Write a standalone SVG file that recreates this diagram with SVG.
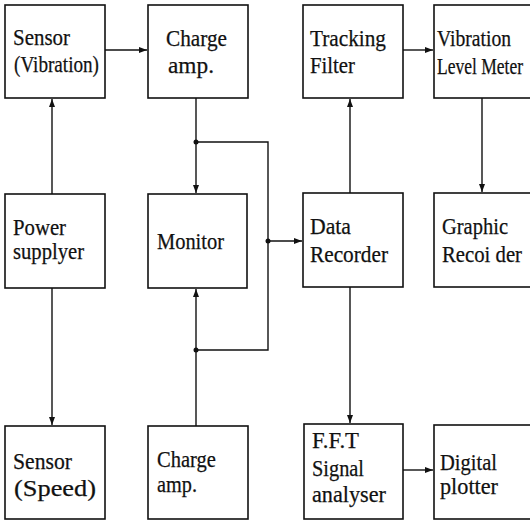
<svg xmlns="http://www.w3.org/2000/svg" width="530" height="521" viewBox="0 0 530 521">
  <style>
    .box { fill: #fff; stroke: #111; stroke-width: 1.6; }
    .lbl { font-family: "Liberation Serif", "Times New Roman", serif; font-size: 24px; fill: #111; stroke: #111; stroke-width: 0.25; }
    .wire { fill: none; stroke: #111; stroke-width: 1.4; }
    .dot { fill: #111; }
  </style>
  <defs>
    <marker id="arrow" markerUnits="userSpaceOnUse" markerWidth="9" markerHeight="7" refX="8" refY="3" orient="auto">
      <path d="M0,0 L8,3 L0,6 Z" fill="#111"/>
    </marker>
  </defs>
  <rect width="530" height="521" fill="#fff"/>

  <!-- Connectors -->
  <g id="connectors">
    <path class="wire" d="M105,50 H147" marker-end="url(#arrow)"/>
    <path class="wire" d="M403,50 H433" marker-end="url(#arrow)"/>
    <path class="wire" d="M52,194 V99" marker-end="url(#arrow)"/>
    <path class="wire" d="M52,288 V425" marker-end="url(#arrow)"/>
    <path class="wire" d="M196,98 V193" marker-end="url(#arrow)"/>
    <path class="wire" d="M196,426 V289" marker-end="url(#arrow)"/>
    <path class="wire" d="M196,142 H268 V350 H196"/>
    <path class="wire" d="M268,241 H302" marker-end="url(#arrow)"/>
    <path class="wire" d="M350,193 V99" marker-end="url(#arrow)"/>
    <path class="wire" d="M482,98 V192" marker-end="url(#arrow)"/>
    <path class="wire" d="M350,287 V423" marker-end="url(#arrow)"/>
    <path class="wire" d="M403,470 H433" marker-end="url(#arrow)"/>
    <circle class="dot" cx="196" cy="142" r="2.5"/>
    <circle class="dot" cx="196" cy="350" r="2.5"/>
    <circle class="dot" cx="268" cy="241" r="2.5"/>
  </g>

  <!-- Top row -->
  <g id="sensor-vibration">
    <rect class="box" x="5" y="5" width="100" height="93"/>
    <text class="lbl" x="13" y="45" textLength="57" lengthAdjust="spacingAndGlyphs">Sensor</text>
    <text class="lbl" x="14" y="72" textLength="85" lengthAdjust="spacingAndGlyphs">(Vibration)</text>
  </g>
  <g id="charge-amp-top">
    <rect class="box" x="148" y="5" width="100" height="93"/>
    <text class="lbl" x="166" y="46" textLength="61" lengthAdjust="spacingAndGlyphs">Charge</text>
    <text class="lbl" x="168" y="73" textLength="46" lengthAdjust="spacingAndGlyphs">amp.</text>
  </g>
  <g id="tracking-filter">
    <rect class="box" x="303" y="5" width="100" height="93"/>
    <text class="lbl" x="310" y="46" textLength="76" lengthAdjust="spacingAndGlyphs">Tracking</text>
    <text class="lbl" x="310" y="73" textLength="45" lengthAdjust="spacingAndGlyphs">Filter</text>
  </g>
  <g id="vibration-level-meter">
    <rect class="box" x="434" y="5" width="110" height="93"/>
    <text class="lbl" x="437" y="46" textLength="74" lengthAdjust="spacingAndGlyphs">Vibration</text>
    <text class="lbl" x="437" y="74" textLength="86" lengthAdjust="spacingAndGlyphs">Level Meter</text>
  </g>

  <!-- Middle row -->
  <g id="power-supplyer">
    <rect class="box" x="5" y="194" width="100" height="94"/>
    <text class="lbl" x="13" y="235" textLength="53" lengthAdjust="spacingAndGlyphs">Power</text>
    <text class="lbl" x="13" y="259" textLength="71" lengthAdjust="spacingAndGlyphs">supplyer</text>
  </g>
  <g id="monitor">
    <rect class="box" x="148" y="194" width="99" height="94"/>
    <text class="lbl" x="157" y="249" textLength="67" lengthAdjust="spacingAndGlyphs">Monitor</text>
  </g>
  <g id="data-recorder">
    <rect class="box" x="303" y="193" width="100" height="94"/>
    <text class="lbl" x="310" y="234" textLength="41" lengthAdjust="spacingAndGlyphs">Data</text>
    <text class="lbl" x="310" y="262" textLength="78" lengthAdjust="spacingAndGlyphs">Recorder</text>
  </g>
  <g id="graphic-recorder">
    <rect class="box" x="434" y="193" width="110" height="94"/>
    <text class="lbl" x="442" y="234" textLength="66" lengthAdjust="spacingAndGlyphs">Graphic</text>
    <text class="lbl" x="442" y="262" textLength="80" lengthAdjust="spacingAndGlyphs">Recoi der</text>
  </g>

  <!-- Bottom row -->
  <g id="sensor-speed">
    <rect class="box" x="5" y="426" width="100" height="93"/>
    <text class="lbl" x="13" y="469" textLength="59" lengthAdjust="spacingAndGlyphs">Sensor</text>
    <text class="lbl" x="14" y="496" textLength="82" lengthAdjust="spacingAndGlyphs">(Speed)</text>
  </g>
  <g id="charge-amp-bottom">
    <rect class="box" x="148" y="426" width="100" height="93"/>
    <text class="lbl" x="157" y="467" textLength="59" lengthAdjust="spacingAndGlyphs">Charge</text>
    <text class="lbl" x="157" y="492" textLength="40" lengthAdjust="spacingAndGlyphs">amp.</text>
  </g>
  <g id="fft-signal-analyser">
    <rect class="box" x="304" y="424" width="99" height="95"/>
    <text class="lbl" x="312" y="448" textLength="47" lengthAdjust="spacingAndGlyphs">F.F.T</text>
    <text class="lbl" x="312" y="476" textLength="52" lengthAdjust="spacingAndGlyphs">Signal</text>
    <text class="lbl" x="312" y="502" textLength="74" lengthAdjust="spacingAndGlyphs">analyser</text>
  </g>
  <g id="digital-plotter">
    <rect class="box" x="434" y="425" width="110" height="94"/>
    <text class="lbl" x="440" y="470" textLength="57" lengthAdjust="spacingAndGlyphs">Digital</text>
    <text class="lbl" x="440" y="494" textLength="58" lengthAdjust="spacingAndGlyphs">plotter</text>
  </g>
</svg>
